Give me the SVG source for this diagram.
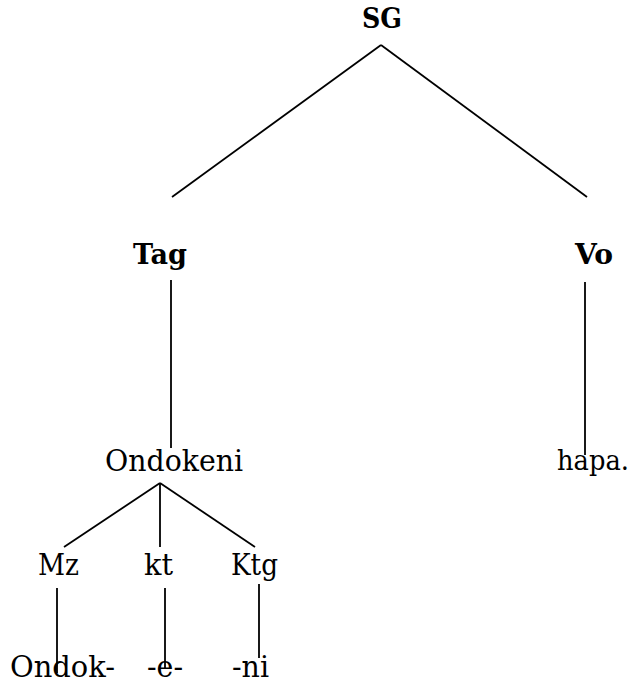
<svg xmlns="http://www.w3.org/2000/svg" width="636" height="684" viewBox="0 0 636 684">
  <style>
    .lbl { font-family: "DejaVu Serif", "Liberation Serif", serif; fill: #000; }
    .cat { font-weight: bold; font-size: 27px; }
    .wd { font-size: 29px; }
    .edge { stroke: #000; stroke-width: 1.8; fill: none; stroke-linecap: butt; }
  </style>
  <rect width="636" height="684" fill="#fff"/>

  <!-- tree branches -->
  <g id="connectors">
    <line class="edge" x1="381" y1="45" x2="172" y2="197"/>
    <line class="edge" x1="381" y1="45" x2="587" y2="197"/>
    <line class="edge" x1="171" y1="280" x2="171" y2="448"/>
    <line class="edge" x1="585" y1="282" x2="585" y2="455"/>
    <line class="edge" x1="160" y1="483" x2="64" y2="547"/>
    <line class="edge" x1="160" y1="483" x2="160" y2="547"/>
    <line class="edge" x1="160" y1="483" x2="255" y2="547"/>
    <line class="edge" x1="57" y1="588" x2="57" y2="673"/>
    <line class="edge" x1="165" y1="588" x2="165" y2="668"/>
    <line class="edge" x1="259" y1="584" x2="259" y2="658"/>
  </g>

  <g id="node-sg"><text class="lbl cat" x="362" y="28" textLength="40" lengthAdjust="spacingAndGlyphs">SG</text></g>
  <g id="node-tag"><text class="lbl cat" x="133" y="264" textLength="54" lengthAdjust="spacingAndGlyphs">Tag</text></g>
  <g id="node-vo"><text class="lbl cat" x="575" y="264" textLength="38" lengthAdjust="spacingAndGlyphs">Vo</text></g>

  <g id="node-ondokeni"><text class="lbl wd" x="105" y="471" textLength="138" lengthAdjust="spacingAndGlyphs">Ondokeni</text></g>
  <g id="node-hapa"><text class="lbl wd" x="557" y="470" font-size="27" style="font-size:27px" textLength="72" lengthAdjust="spacingAndGlyphs">hapa.</text></g>

  <g id="node-mz"><text class="lbl wd" x="38" y="575" textLength="41" lengthAdjust="spacingAndGlyphs">Mz</text></g>
  <g id="node-kt"><text class="lbl wd" x="144" y="575" textLength="29" lengthAdjust="spacingAndGlyphs">kt</text></g>
  <g id="node-ktg"><text class="lbl wd" x="231" y="575" textLength="47" lengthAdjust="spacingAndGlyphs">Ktg</text></g>

  <g id="node-ondok"><text class="lbl wd" x="10" y="677" textLength="105" lengthAdjust="spacingAndGlyphs">Ondok-</text></g>
  <g id="node-e"><text class="lbl wd" x="147" y="677" textLength="36" lengthAdjust="spacingAndGlyphs">-e-</text></g>
  <g id="node-ni"><text class="lbl wd" x="232" y="677" textLength="37" lengthAdjust="spacingAndGlyphs">-ni</text></g>
</svg>
